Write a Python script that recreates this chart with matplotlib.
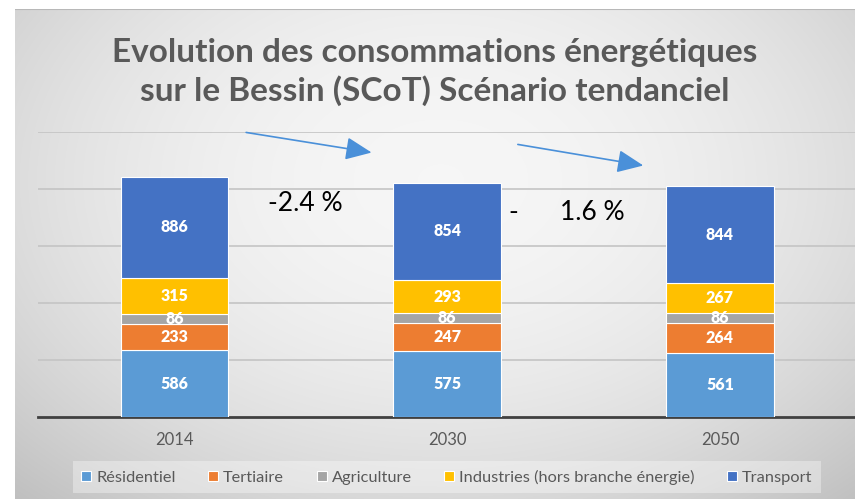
import numpy as np
import matplotlib
matplotlib.use("Agg")
import matplotlib.pyplot as plt

years = ["2014", "2030", "2050"]
sectors = ["Résidentiel", "Tertiaire", "Agriculture",
           "Industries (hors branche énergie)", "Transport"]
residentiel = [586, 575, 561]
tertiaire = [233, 247, 264]
agriculture = [86, 86, 86]
industries = [315, 293, 267]
transport = [886, 854, 844]
colors = ["#5b9bd5", "#ed7d31", "#a5a5a5", "#ffc000", "#4472c4"]

title = "Evolution des consommations énergétiques\nsur le Bessin (SCoT) Scénario tendanciel"

plt.rcParams["font.family"] = ["Lato", "DejaVu Sans"]

W, H = 855, 499
fig = plt.figure(figsize=(W / 100, H / 100), dpi=100)
fig.patch.set_facecolor("white")

# radial grey background of the chart area
bg = fig.add_axes([15 / W, 0, 840 / W, (H - 9) / H], zorder=0)
yy, xx = np.mgrid[9:H, 15:W]
r2 = ((xx - 440) / 600.0) ** 2 + ((yy - 180) / 420.0) ** 2
shade = np.clip(0.965 - 0.2 * r2, 0, 1)
bg.imshow(np.dstack([shade] * 3), aspect="auto", interpolation="bilinear")
bg.axhline(0, color="#b8b8b8", lw=1.5)
bg.set_axis_off()

ax = fig.add_axes([38 / W, (H - 417) / H, (W - 38) / W, 285 / H], zorder=1)
ax.set_facecolor("none")

x = np.arange(len(years))
series = [residentiel, tertiaire, agriculture, industries, transport]
bottom = np.zeros(len(years))
for name, vals, col in zip(sectors, series, colors):
    vals = np.array(vals)
    ax.bar(x, vals, 0.395, bottom=bottom, color=col, label=name,
           edgecolor="white", linewidth=0.8, zorder=3)
    for xi, b, v in zip(x, bottom, vals):
        ax.text(xi, b + v / 2, str(v), ha="center", va="center",
                color="white", fontsize=11.5, fontweight="heavy", zorder=4)
    bottom += vals

ax.set_xlim(-0.5, 2.495)
ax.set_ylim(0, 2500)
ax.set_yticks([500, 1000, 1500, 2000, 2500])
ax.yaxis.grid(True, color="#c4c4c4", lw=1.2, zorder=0)
ax.tick_params(axis="y", left=False, labelleft=False)
ax.set_xticks(x)
ax.set_xticklabels(years, fontsize=12, color="#595959")
ax.tick_params(axis="x", length=0, pad=11)
for s in ["top", "right", "left"]:
    ax.spines[s].set_visible(False)
ax.spines["bottom"].set_color("#404040")
ax.spines["bottom"].set_linewidth(2)

# trend arrows and percentages
arrow = dict(arrowstyle="-|>,head_length=1.6,head_width=0.7", color="#4a90d9", lw=1.2)
ax.annotate("", xy=(0.733, 2316), xytext=(0.253, 2500), arrowprops=arrow,
            annotation_clip=False, zorder=5)
ax.annotate("", xy=(1.729, 2202), xytext=(1.249, 2395), arrowprops=arrow,
            annotation_clip=False, zorder=5)
ax.text(0.48, 1877, "-2.4 %", ha="center", va="center", fontsize=19, color="black")
ax.text(1.242, 1798, "-", ha="center", va="center", fontsize=19, color="black")
ax.text(1.531, 1798, "1.6 %", ha="center", va="center", fontsize=19, color="black")

fig.text(435 / W, 1 - 72 / H, title, ha="center", va="center", fontsize=24,
         fontweight="bold", color="#595959", linespacing=1.32)

leg = fig.legend(loc="center", bbox_to_anchor=(447 / W, 1 - 477 / H), ncol=5,
                 fontsize=11.8, frameon=True, fancybox=False, handlelength=0.6,
                 handleheight=0.6, handletextpad=0.3, columnspacing=2.0,
                 borderpad=0.5, labelcolor="#595959")
leg.get_frame().set_facecolor("white")
leg.get_frame().set_alpha(0.35)
leg.get_frame().set_linewidth(0)

fig.savefig("out.png", dpi=100)
